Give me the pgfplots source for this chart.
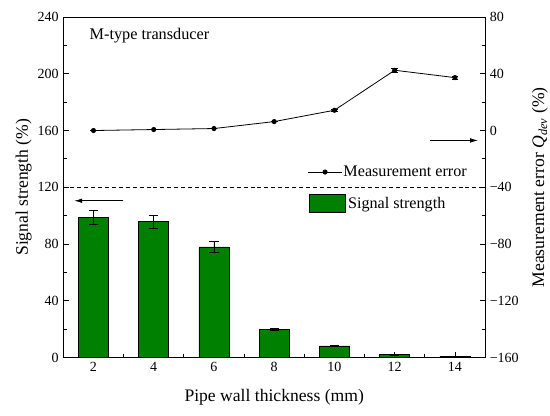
\documentclass[border=0pt]{standalone}
\usepackage{fontspec}
\setmainfont{Liberation Serif}
\usepackage{pgfplots}
\pgfplotsset{compat=1.18}
\usetikzlibrary{arrows.meta}
\definecolor{bargreen}{RGB}{0,128,0}
\begin{document}
\begin{tikzpicture}
\pgfplotsset{
  every axis/.append style={
    width=316.3pt, height=255.3pt, scale only axis,
    xmin=1, xmax=15,
    /pgf/number format/assume math mode=true,
    tick label style={font=\fontsize{10.5}{12}\selectfont},
    label style={font=\fontsize{13.2}{15}\selectfont},
    axis line style={line width=0.8pt},
    tick style={line width=0.6pt, black},
    major tick length=4pt, minor tick length=2.5pt,
    tick align=inside,
  }
}
\path[use as bounding box] (-47.5pt,-43.8pt) rectangle (365pt,268.1pt);
\begin{axis}[
  ymin=0, ymax=240,
  ytick={0,40,...,240}, minor ytick={20,60,...,220},
  xtick={2,4,...,14}, minor xtick={3,5,...,13},
  xtick pos=bottom, ytick pos=left,
  xlabel={Pipe wall thickness (mm)},
  ylabel={Signal strength (\%)},
  xlabel style={at={(axis description cs:0.5,-0.118)}, anchor=center},
  ylabel style={at={(axis description cs:-0.094,0.5)}, anchor=center},
  legend style={draw=none, fill=none, inner sep=0pt, at={(axis description cs:0.581,0.4524)}, anchor=west, font=\fontsize{12.1}{14}\selectfont},
  legend image code/.code={\draw[#1, line width=0.6pt] (0pt,-6.5pt) rectangle (27pt,6.5pt);},
]
\draw[line width=0.6pt, dash pattern=on 3pt off 2.2pt] (axis cs:1,120) -- (axis cs:15,120);
\addplot[ybar, bar width=1, fill=bargreen, draw=black, line width=0.5pt,
  error bars/.cd, y dir=both, y explicit,
  error bar style={line width=0.4pt, black},
  error mark options={rotate=90, mark size=3.5pt, line width=0.4pt, black}]
  coordinates {
  (2,98.8) +- (0,5.0)
  (4,95.7) +- (0,4.6)
  (6,77.9) +- (0,4.0)
  (8,19.9) +- (0,0.8)
  (10,8.1) +- (0,0.4)
  (12,2.0) +- (0,0.2)
  (14,1.0) +- (0,0.1)
  };
\addlegendentry{Signal strength}
\draw[line width=0.7pt, -{Latex[length=6pt, width=3.5pt]}] (axis cs:2.99,110.5) -- (axis cs:1.36,110.5);
\node[anchor=base west, font=\fontsize{12.2}{14}\selectfont, inner sep=0pt] at (axis description cs:0.0617,0.935) {M-type transducer};
\end{axis}
\begin{axis}[
  ymin=-160, ymax=80,
  ytick={-160,-120,...,80}, minor ytick={-140,-100,...,60},
  yticklabels={−160,−120,−80,−40,0,40,80},
  axis y line*=right, axis x line=none,
  ytick pos=right,
  ylabel={Measurement error \textit{Q}\textsubscript{\textit{dev}} (\%)},
  ylabel style={at={(axis description cs:1.130,0.5)}, anchor=center},
  legend style={draw=none, fill=none, inner sep=0pt, at={(axis description cs:0.578,0.5447)}, anchor=west, font=\fontsize{12.1}{14}\selectfont, nodes={inner sep=0.5pt}},
  legend image code/.code={\draw[#1, mark repeat=2, mark phase=2] plot coordinates {(0pt,0pt) (13pt,0pt) (26pt,0pt)};},
]
\addplot[black, line width=0.6pt, mark=*, mark size=1.6pt,
  error bars/.cd, y dir=both, y explicit,
  error bar style={line width=0.4pt, black},
  error mark options={rotate=90, mark size=2.5pt, line width=0.4pt, black}]
  coordinates {
  (2,0) +- (0,0)
  (4,0.7) +- (0,0)
  (6,1.4) +- (0,0)
  (8,6.3) +- (0,0)
  (10,14.3) +- (0,0.5)
  (12,42.5) +- (0,1.5)
  (14,37.3) +- (0,1.0)
  };
\addlegendentry{Measurement error}
\draw[line width=0.7pt, -{Latex[length=6pt, width=3.5pt]}] (axis cs:13.17,-7.0) -- (axis cs:14.77,-7.0);
\end{axis}
\end{tikzpicture}
\end{document}
